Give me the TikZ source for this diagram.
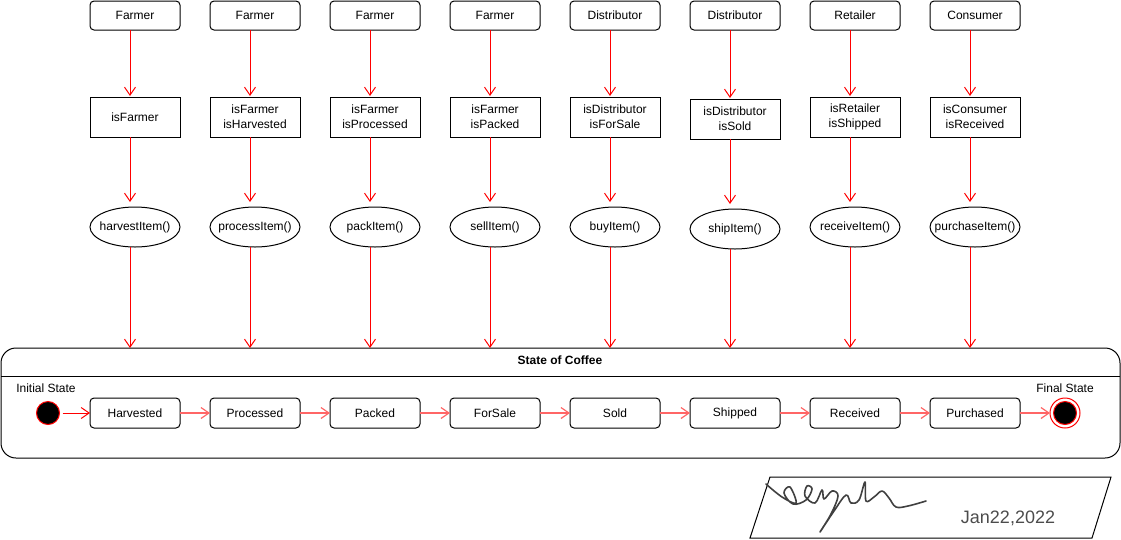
\documentclass[tikz,border=0pt]{standalone}
\usepackage{fontspec}
\setmainfont{Liberation Sans}
\usetikzlibrary{arrows.meta,shapes.geometric,calc}
\begin{document}
\begin{tikzpicture}[x=1pt,y=-1pt,font=\fontsize{12}{15}\selectfont,
  every node/.style={inner sep=0pt,outer sep=0pt,align=center},
  actor/.style={draw,line width=1pt,rounded corners=4pt,minimum width=90pt,minimum height=29pt},
  cond/.style={draw,line width=1pt,minimum width=90pt,minimum height=40pt},
  fn/.style={draw,ellipse,line width=1pt,minimum width=90pt,minimum height=40pt},
  stbox/.style={draw,line width=1pt,rounded corners=4pt,minimum width=90pt,minimum height=30pt},
  flow/.style={draw=red,line width=1pt,-{Straight Barb[length=8pt,width=11pt]}},
  trans/.style={draw=red!60,line width=1.2pt,-{Straight Barb[length=8pt,width=11pt]}}]
\useasboundingbox (0,0) rectangle (1121,539);

% container
\node[draw,line width=1pt,rounded corners=15pt,minimum width=1119pt,minimum height=110pt] (cont) at (560.5,403) {};
\coordinate (hl) at (0,376);
\draw[line width=1pt] (cont.west |- hl) -- (cont.east |- hl);
\node[font=\fontsize{12}{14}\selectfont\bfseries] (title) at (560,360) {State of Coffee};
\node (initlbl) at (46,388) {Initial State};
\node (finlbl) at (1065,388) {Final State};

% columns
\foreach \i/\who/\cnd/\fnn/\st/\dy in {
  1/Farmer/isFarmer/harvestItem()/Harvested/0,
  2/Farmer/isFarmer\\isHarvested/processItem()/Processed/0,
  3/Farmer/isFarmer\\isProcessed/packItem()/Packed/0,
  4/Farmer/isFarmer\\isPacked/sellItem()/ForSale/0,
  5/Distributor/isDistributor\\isForSale/buyItem()/Sold/0,
  6/Distributor/isDistributor\\isSold/shipItem()/Shipped/2,
  7/Retailer/isRetailer\\isShipped/receiveItem()/Received/0,
  8/Consumer/isConsumer\\isReceived/purchaseItem()/Purchased/0}{
  \pgfmathsetmacro{\cx}{15+120*\i}
  \node[actor] (a\i) at (\cx,15.5) {\who};
  \node[cond] (c\i) at (\cx,117+\dy) {\cnd};
  \node[fn] (f\i) at (\cx,227+\dy) {};
  \node (ft\i) at (f\i) {\fnn};
  \node[stbox] (s\i) at (\cx,413) {\st};
  \draw[flow] ([xshift=-5pt]a\i.south) -- ([xshift=-5pt,yshift=1pt]c\i.north);
  \draw[flow] ([xshift=-5pt]c\i.south) -- ([xshift=-5pt,yshift=5pt]f\i.north);
  \draw[flow] ([xshift=-5pt]f\i.south) -- ([xshift=-5pt]f\i.south |- cont.north);
}

% initial and final states
\node[circle,draw=red,fill=black,line width=1pt,minimum size=23pt] (init) at (48,413) {};
\node[circle,draw=red,line width=1pt,minimum size=30pt] (fin) at (1065,413) {};
\node[circle,draw=red,fill=black,line width=1pt,minimum size=23pt] (finin) at (fin) {};

\draw[flow] ([xshift=3pt]init.east) -- (s1.west);
\foreach \i [evaluate=\i as \j using int(\i+1)] in {1,...,7}{
  \draw[trans] (s\i.east) -- (s\j.west);
}
\draw[trans] (s8.east) -- (fin.west);

% signature
\draw[line width=1pt] (770,477) -- (1111,477) -- (1092,538) -- (750,538) -- cycle;
\draw[gray!50!black,line width=1.6pt,line cap=round,line join=round] plot[smooth,tension=0.6] coordinates {
 (766,484) (782,497) (796,503) (790,487) (784,493) (793,504) (806,500) (812,489) (807,486) (805,496) (815,503) (822,490) (824,499) (832,491) (838,496) (831,514) (820,532) (834,511) (846,495) (851,503) (859,500) (865,482) (866,501) (874,497) (882,491) (889,498) (896,507) (908,506) (926,501)};
\node[text=gray!60!black,font=\fontsize{18}{18}\selectfont] (date) at (1008,518) {Jan22,2022};
\end{tikzpicture}
\end{document}
